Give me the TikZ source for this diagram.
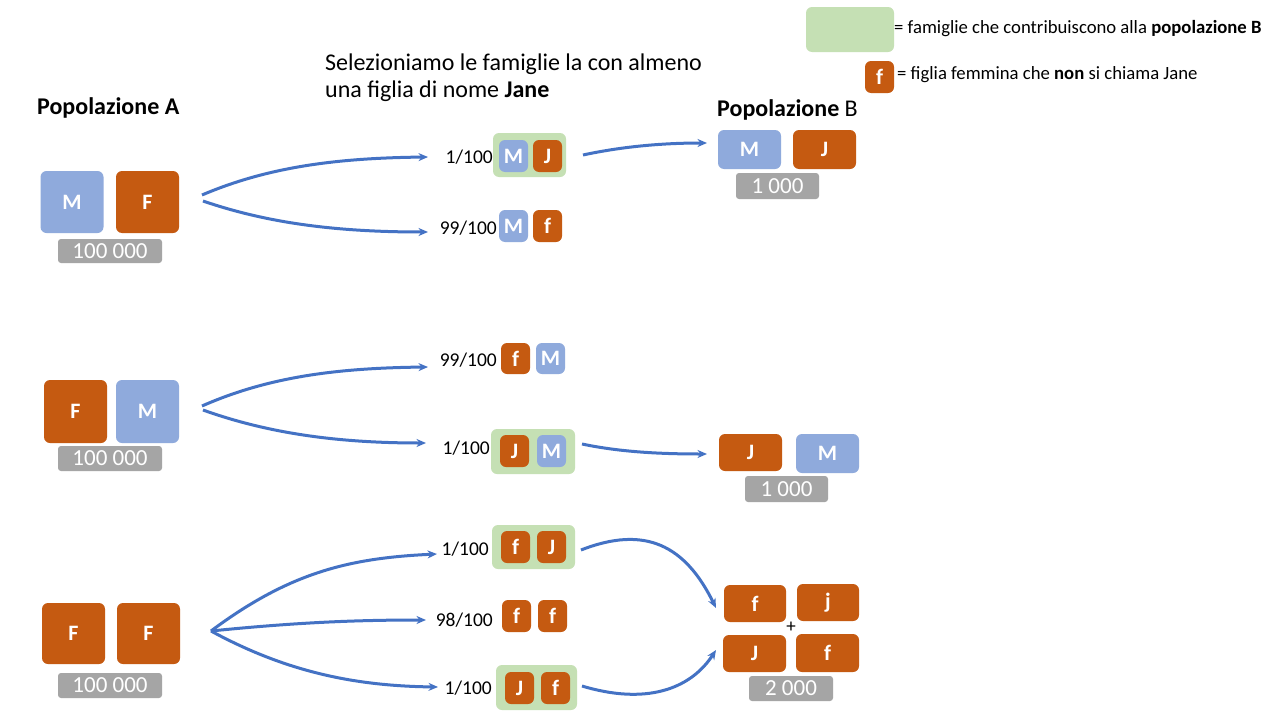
\documentclass[tikz,border=0pt]{standalone}
\usepackage{fontspec}
\setmainfont{Carlito}
\usetikzlibrary{arrows.meta}
\definecolor{mblue}{HTML}{8FAADC}
\definecolor{forange}{HTML}{C55A11}
\definecolor{lgray}{HTML}{A5A5A5}
\definecolor{lgreen}{HTML}{C5E0B4}
\definecolor{arrblue}{HTML}{4472C4}
\tikzset{
  kid/.style={rounded corners=6pt, inner sep=0pt, text=white, font=\fontsize{22}{24}\selectfont\bfseries},
  boy/.style={kid, fill=mblue},
  girl/.style={kid, fill=forange},
  bigsq/.style={minimum width=63pt, minimum height=62pt},
  smallsq/.style={minimum width=29pt, minimum height=32pt, font=\fontsize{22}{24}\selectfont\bfseries},
  widebox/.style={minimum width=63pt, minimum height=38pt},
  count/.style={fill=lgray, rounded corners=3pt, inner sep=0pt, text=white, font=\fontsize{23}{25}\selectfont},
  sel/.style={fill=lgreen, rounded corners=6pt, inner sep=0pt},
  prob/.style={anchor=east, inner sep=0pt, font=\fontsize{19.5}{21}\selectfont},
  head/.style={inner sep=0pt, font=\fontsize{24}{28}\selectfont},
  legend/.style={anchor=west, inner sep=0pt, font=\fontsize{18.7}{22}\selectfont},
  flow/.style={draw=arrblue, line width=3pt, -{Stealth[length=9.5pt, width=8pt]}}
}
\begin{document}
\begin{tikzpicture}[x=1pt, y=-1pt]
\useasboundingbox[fill=white] (0,0) rectangle (1280,720);

% legend
\node[sel, minimum width=88pt, minimum height=45pt] (leg1) at (850,29.5) {};
\node[legend] (leg1t) at (894,29) {= famiglie che contribuiscono alla \textbf{popolazione B}};
\node[girl, smallsq] (leg2) at (879.5,77) {f};
\node[legend] (leg2t) at (897,75) {= figlia femmina che \textbf{non} si chiama Jane};

% headings
\node[head, anchor=west] (popA) at (37,108) {\textbf{Popolazione A}};
\node[head, anchor=north west, align=left, font=\fontsize{24}{27}\selectfont] (sel) at (325,54) {Selezioniamo le famiglie la con almeno\\una figlia di nome \textbf{Jane}};
\node[head, anchor=west] (popB) at (717,110) {\textbf{Popolazione} B};

% ---------- row 1: M F ----------
\node[boy, bigsq] (a1) at (72,202) {M};
\node[girl, bigsq] (a2) at (147.5,202) {F};
\node[count, minimum width=104pt, minimum height=24pt] (ca) at (110,251) {100 000};

\node[sel, minimum width=73pt, minimum height=44pt] (g1) at (529.5,155) {};
\node[boy, smallsq] (r1m) at (513.5,156) {M};
\node[girl, smallsq] (r1j) at (547.5,156) {J};
\node[prob] (p1) at (493,157) {1/100};

\node[boy, smallsq] (r2m) at (513.5,226) {M};
\node[girl, smallsq] (r2f) at (547.5,226) {f};
\node[prob] (p2) at (497,228) {99/100};

\node[boy, widebox, minimum height=39pt] (b1) at (749.5,149.5) {M};
\node[girl, widebox, minimum height=39pt] (b2) at (824.5,149.5) {J};
\node[count, minimum width=83pt, minimum height=26pt] (cb1) at (777.5,186) {1 000};

\coordinate (s1a) at (202,195);
\coordinate (s1b) at (203,201);
\coordinate (e1a) at (428,157);
\coordinate (e1b) at (428,232);
\coordinate (o1) at (583,155);
\coordinate (t1) at (707,143);
\draw[flow] (s1a) .. controls (270,166) and (340,158) .. (e1a);
\draw[flow] (s1b) .. controls (270,224) and (340,232) .. (e1b);
\draw[flow] (o1) .. controls (620,147) and (660,143) .. (t1);

% ---------- row 2: F M ----------
\node[girl, bigsq, minimum height=63pt] (c1) at (75.5,411.5) {F};
\node[boy, bigsq, minimum height=63pt] (c2) at (147.5,411.5) {M};
\node[count, minimum width=104pt, minimum height=25pt] (cc) at (110,458.5) {100 000};

\node[girl, smallsq, minimum height=31pt] (r3f) at (515.5,358.5) {f};
\node[boy, smallsq, minimum height=31pt] (r3m) at (550.5,358.5) {M};
\node[prob] (p3) at (497,360) {99/100};

\node[sel, minimum width=84pt, minimum height=45pt] (g2) at (533,451.5) {};
\node[girl, smallsq] (r4j) at (514.5,451) {J};
\node[boy, smallsq] (r4m) at (551.5,451) {M};
\node[prob] (p4) at (490,448) {1/100};

\node[girl, widebox, minimum height=37pt] (d1) at (750.5,452.5) {J};
\node[boy, widebox, minimum height=39pt] (d2) at (827.5,453.5) {M};
\node[count, minimum width=83pt, minimum height=26pt] (cb2) at (786.5,489) {1 000};

\coordinate (s2a) at (202,406);
\coordinate (s2b) at (203,410);
\coordinate (e2a) at (428,367);
\coordinate (e2b) at (426,443);
\coordinate (o2) at (582,444);
\coordinate (t2) at (707,454);
\draw[flow] (s2a) .. controls (270,376) and (340,368) .. (e2a);
\draw[flow] (s2b) .. controls (270,434) and (340,443) .. (e2b);
\draw[flow] (o2) .. controls (620,452) and (660,454) .. (t2);

% ---------- row 3: F F ----------
\node[girl, bigsq, minimum height=61pt] (f1) at (73.5,633.5) {F};
\node[girl, bigsq, minimum height=61pt] (f2) at (148.5,633.5) {F};
\node[count, minimum width=104pt, minimum height=25pt] (cf) at (110,685.5) {100 000};

\node[sel, minimum width=83pt, minimum height=44pt] (g3) at (533.5,547) {};
\node[girl, smallsq] (r5f) at (515.5,547) {f};
\node[girl, smallsq] (r5j) at (551.5,547) {J};
\node[prob] (p5) at (489,549) {1/100};

\node[girl, smallsq] (r6f) at (516.5,616) {f};
\node[girl, smallsq] (r6g) at (552.5,616) {f};
\node[prob] (p6) at (493,620) {98/100};

\node[sel, minimum width=81pt, minimum height=45pt] (g4) at (536.5,687.5) {};
\node[girl, smallsq] (r7j) at (519.5,688) {J};
\node[girl, smallsq] (r7f) at (555.5,688) {f};
\node[prob] (p7) at (492,688) {1/100};

\node[girl, widebox, minimum width=62pt, minimum height=37pt] (h1) at (755,603.5) {f};
\node[girl, widebox, minimum width=62pt, minimum height=37pt] (h2) at (828,602.5) {j};
\node[girl, widebox, minimum height=37pt] (h3) at (754.5,653.5) {J};
\node[girl, widebox, minimum height=38pt] (h4) at (827.5,653) {f};
\node[inner sep=0pt, font=\fontsize{19}{20}\selectfont] (plus) at (791,627) {+};
\node[count, minimum width=84pt, minimum height=25pt] (cb3) at (791,688.5) {2 000};

\coordinate (s3) at (211,631);
\coordinate (e3a) at (437,554);
\coordinate (e3b) at (426,620);
\coordinate (e3c) at (438,687);
\coordinate (o3a) at (581,550);
\coordinate (o3b) at (582,686);
\coordinate (t3a) at (716,608);
\coordinate (t3b) at (716,650);
\draw[flow] (s3) .. controls (290,572) and (350,558) .. (e3a);
\draw[flow] (s3) .. controls (300,622) and (360,620) .. (e3b);
\draw[flow] (s3) .. controls (290,674) and (360,686) .. (e3c);
\draw[flow] (o3a) .. controls (645,525) and (685,545) .. (t3a);
\draw[flow] (o3b) .. controls (645,705) and (690,690) .. (t3b);
\end{tikzpicture}
\end{document}
